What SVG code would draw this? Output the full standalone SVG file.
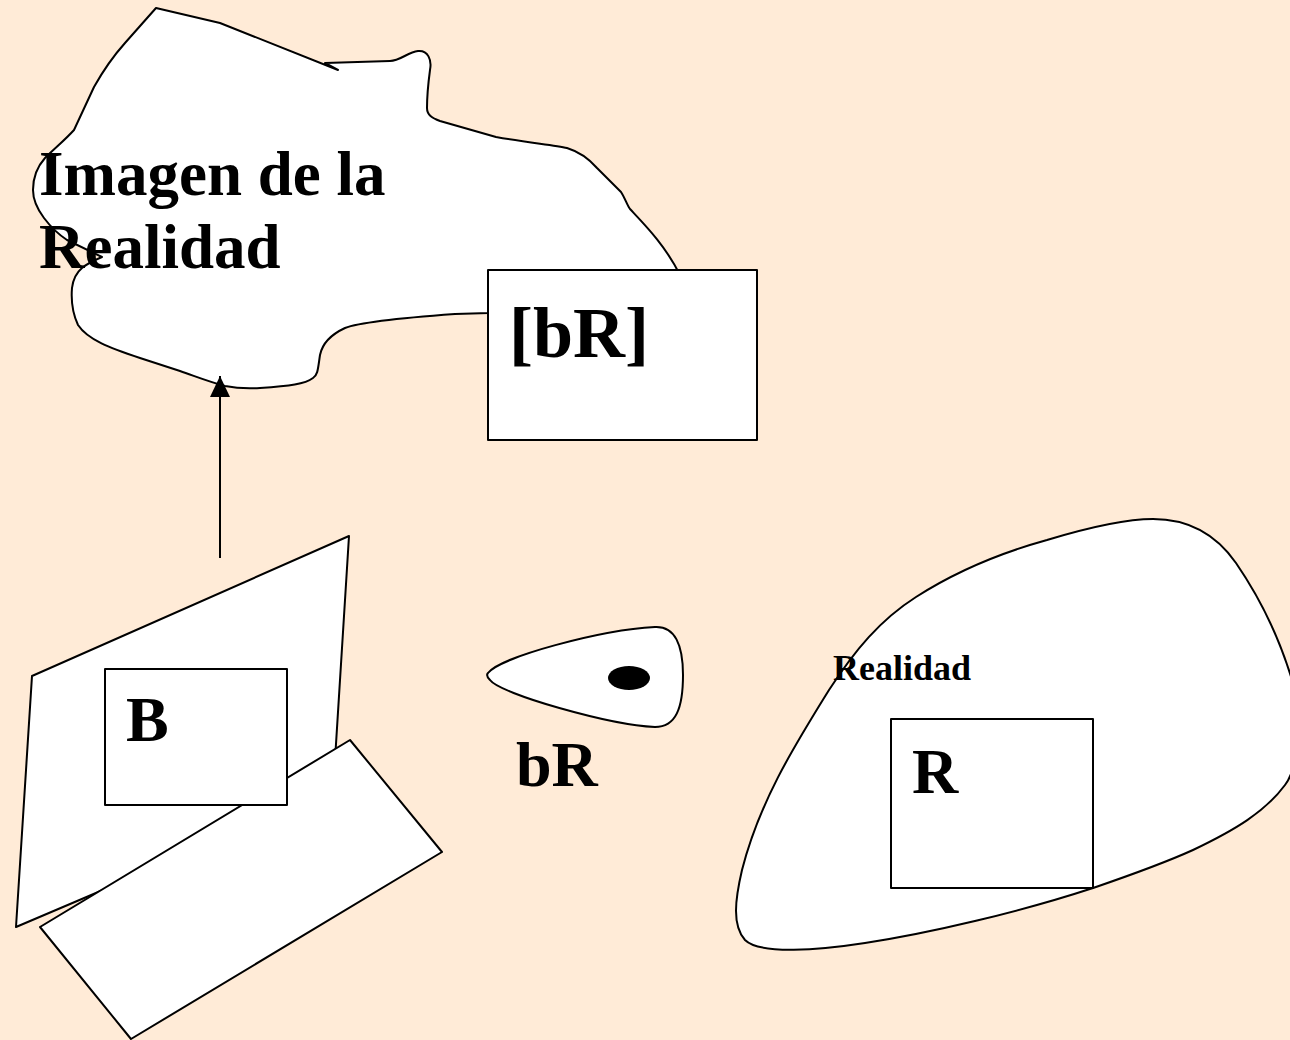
<svg xmlns="http://www.w3.org/2000/svg" width="1290" height="1040" viewBox="0 0 1290 1040">
<defs>
<style>
.shape{fill:#ffffff;stroke:#000000;stroke-width:2;stroke-linejoin:round}
.t{font-family:"Liberation Serif","Times New Roman",serif;font-weight:bold;fill:#000000}
</style>
<marker id="arrow" viewBox="0 0 21 20" refX="21" refY="10" markerWidth="21" markerHeight="20" markerUnits="userSpaceOnUse" orient="auto">
<path d="M21,10 L0,0 L0,20 Z" fill="#000000"/>
</marker>
</defs>
<rect x="0" y="0" width="1290" height="1040" fill="#FFEBD7"/>

<g id="imagen-realidad">
<path class="shape" d="M156,8 L220,23 L338,70 L325,63 L390,61 C400,61 408,52 418,51 C428,50 432,60 430,70 C428,85 427,100 427,108 C427,115 432,118 440,121 L496,137 C530,143 555,145 567,148 C580,152 590,160 597,168 L621,192 C625,198 627,205 630,209 C645,225 665,245 680,275 L700,300 L489,313 L455,314 C400,318 360,322 345,328 C330,335 322,345 320,355 C318,368 318,375 313,378 C305,384 290,386 260,388 C245,389 235,388 225,386 C210,382 200,378 180,371 L140,358 C110,348 88,340 78,325 C72,312 71,300 72,288 C73,280 76,273 82,268 C88,263 95,260 102,257 L67,240 C58,234 50,226 44,218 C38,210 33,200 33,190 C33,178 36,168 45,158 C55,148 65,140 74,130 L94,87 Q108,62 125,43 Z"/>
<text class="t" x="39" y="195" font-size="63">Imagen de la</text>
<text class="t" x="39" y="268" font-size="63">Realidad</text>
</g>

<g id="bR-imagen">
<rect class="shape" x="488" y="270" width="269" height="170"/>
<text class="t" x="509" y="357" font-size="72">[bR]</text>
</g>

<g id="connectors">
<line x1="220" y1="558" x2="220" y2="376" stroke="#000000" stroke-width="2" marker-end="url(#arrow)"/>
</g>

<g id="sujeto">
<polygon class="shape" points="32,676 349,536 333,792 16,927"/>
<polygon class="shape" points="350,740 442,852 131,1039 40,927"/>
<rect class="shape" x="105" y="669" width="182" height="136"/>
<text class="t" x="126" y="741" font-size="64">B</text>
</g>

<g id="bR">
<path class="shape" d="M488,673 C500,657 600,630 655,627 C675,626 683,645 683,675 C683,708 676,727 655,727 C610,725 500,694 490,680 C487,677 486,675 488,673 Z"/>
<ellipse cx="629" cy="678" rx="21" ry="12" fill="#000000"/>
<text class="t" x="516" y="786" font-size="64">bR</text>
</g>

<g id="realidad">
<path class="shape" d="M1153,519 C1195,519 1220,540 1236,563 C1260,598 1280,640 1292,680 C1300,720 1300,765 1285,785 C1265,812 1235,830 1193,850 C1160,865 1125,877 1093,888 C1020,912 930,933 865,943 C820,950 760,955 745,940 C732,925 735,900 742,870 C760,800 795,745 829,690 C855,650 880,620 916,597 C955,572 1000,553 1047,540 C1090,527 1125,519 1153,519 Z"/>
<text class="t" x="833" y="680" font-size="36">Realidad</text>
<rect class="shape" x="891" y="719" width="202" height="169"/>
<text class="t" x="912" y="793" font-size="64">R</text>
</g>
</svg>
